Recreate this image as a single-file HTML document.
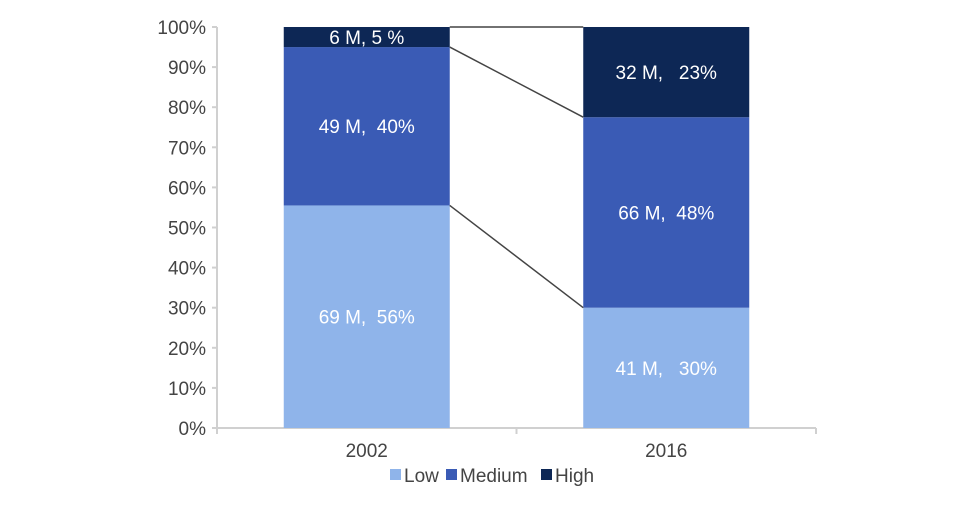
<!DOCTYPE html>
<html><head><meta charset="utf-8"><style>
body{margin:0;background:#fff;}
svg text{font-family:"Liberation Sans",sans-serif;white-space:pre;}
</style></head><body>
<svg id="c" width="970" height="502"></svg>
<script>
const categories=["2002","2016"];
const lowVals=[55.5,30];
const medVals=[39.5,47.5];
const highVals=[5,22.5];
const lowLabels=["69 M,  56%","41 M,   30%"];
const medLabels=["49 M,  40%","66 M,  48%"];
const highLabels=["6 M, 5 %","32 M,   23%"];
const yTicks=[0,10,20,30,40,50,60,70,80,90,100];
const NS="http://www.w3.org/2000/svg";
const svg=document.getElementById('c');
const y0=428,y1=27,xL=217,xR=816;
const y=v=>y0-(y0-y1)*v/100;
const bandW=(xR-xL)/categories.length;
const barW=166;
const xc=i=>xL+bandW*(i+0.5);
function mk(t,a){const e=document.createElementNS(NS,t);for(const k in a)e.setAttribute(k,a[k]);svg.appendChild(e);return e;}
let ya=mk('line',{x1:xL,y1:y1,x2:xL,y2:y0,stroke:'#d0d0d0','stroke-width':2});


let xa=mk('line',{x1:xL,y1:y0,x2:xR,y2:y0,stroke:'#d0d0d0','stroke-width':2});


yTicks.forEach(t=>{
  mk('line',{x1:xL-5,y1:y(t),x2:xL,y2:y(t),stroke:'#d0d0d0','stroke-width':2});
  const tx=mk('text',{x:xL-11,y:y(t)+7,'text-anchor':'end','font-size':19,fill:'#444'});
  tx.textContent=t+'%';
  
  
});
[0,1,2].forEach(i=>mk('line',{x1:xL+bandW*i,y1:y0,x2:xL+bandW*i,y2:y0+6,stroke:'#d0d0d0','stroke-width':2}));
const series=[[lowVals,'#8fb4ea',lowLabels,'low'],[medVals,'#3a5bb5',medLabels,'medium'],[highVals,'#0d2755',highLabels,'high']];
const tops=[];
categories.forEach((c,i)=>{
  let base=0;tops[i]=[];
  series.forEach(([vals,col,labs,nm])=>{
    const v=vals[i];
    const r=mk('rect',{x:xc(i)-barW/2,y:y(base+v),width:barW,height:y(base)-y(base+v),fill:col});
    
    
    const t=mk('text',{x:xc(i),y:(y(base)+y(base+v))/2+7,'text-anchor':'middle','font-size':19,fill:'#fff'});
    t.textContent=labs[i];
    
    
    base+=v;tops[i].push(base);
  });
  const xl=mk('text',{x:xc(i),y:y0+29,'text-anchor':'middle','font-size':19,fill:'#444'});
  xl.textContent=c;
  
  
});
tops[0].forEach((t,k)=>{
  const l=mk('line',{x1:xc(0)+barW/2,y1:y(t),x2:xc(1)-barW/2,y2:y(tops[1][k]),stroke:'#444','stroke-width':1.5});
  
  
});
const leg=[['Low','#8fb4ea',390],['Medium','#3a5bb5',446],['High','#0d2755',541]];
leg.forEach(([n,col,x])=>{
  const r=mk('rect',{x:x,y:469,width:11,height:11,fill:col});
  
  
  const t=mk('text',{x:x+14,y:482,'font-size':19,fill:'#444'});
  t.textContent=n;
  
  
});
</script>
</body></html>
